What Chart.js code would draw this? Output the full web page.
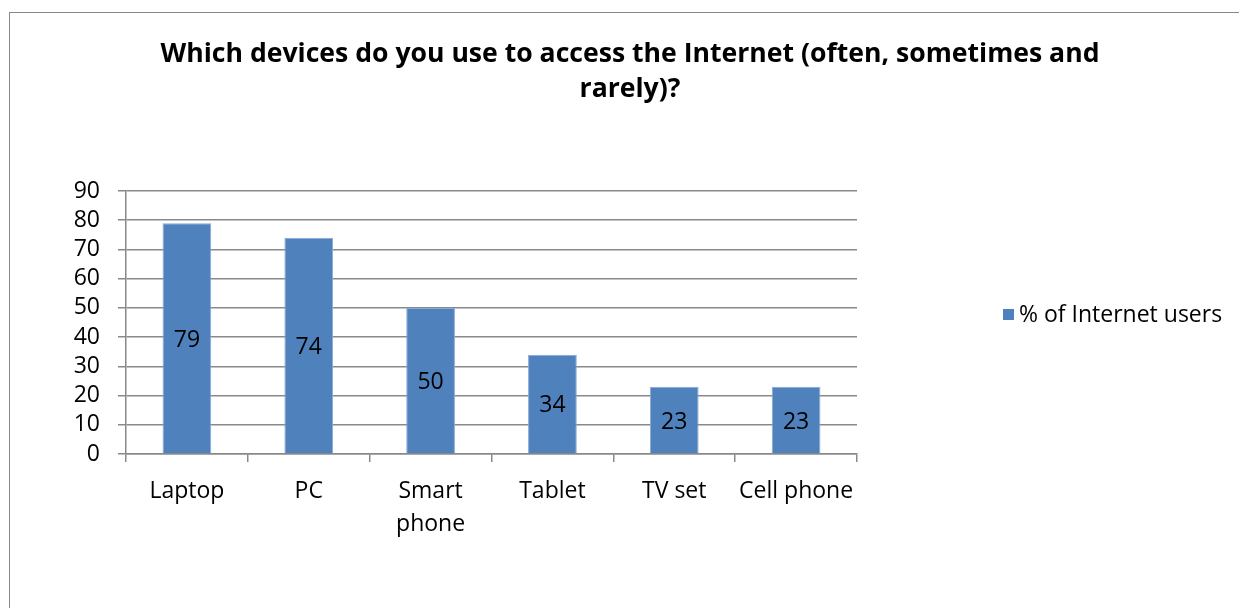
<!DOCTYPE html>
<html>
<head>
<meta charset="utf-8">
<script src="https://cdn.jsdelivr.net/npm/chart.js@4.4.1/dist/chart.umd.min.js"></script>
<style>
  html, body { margin: 0; padding: 0; background: #fff; overflow: hidden; }
  #frame {
    position: absolute; left: 9px; top: 12px;
    width: 1240px; height: 600px;
    border: 1px solid #898989;
  }
  #frame canvas { display: block; }
</style>
</head>
<body>
<div id="frame"><canvas id="devChart" width="1240" height="600"></canvas></div>
<script>
const devices = ['Laptop', 'PC', ['Smart', 'phone'], 'Tablet', 'TV set', 'Cell phone'];
const usersPct = [79, 74, 50, 34, 23, 23];
const yTicks = [0, 10, 20, 30, 40, 50, 60, 70, 80, 90];
const seriesName = '% of Internet users';
const titleLines = ['Which devices do you use to access the Internet (often, sometimes and', 'rarely)?'];

const FONT = '"Open Sans", sans-serif';
const BAR = '#4F81BD';
const GRID = '#898989';

// value written in the middle of each bar
const barValues = {
  id: 'barValues',
  afterDatasetsDraw(chart) {
    const ctx = chart.ctx;
    const meta = chart.getDatasetMeta(0);
    ctx.save();
    ctx.font = '23px ' + FONT;
    ctx.fillStyle = '#000';
    ctx.textAlign = 'center';
    ctx.textBaseline = 'middle';
    meta.data.forEach((bar, i) => {
      const { x, y, base } = bar.getProps(['x', 'y', 'base'], true);
      ctx.fillText(String(chart.data.datasets[0].data[i]), x, (y + base) / 2 + 2);
    });
    ctx.restore();
  }
};

// single-entry legend off to the right of the plot
const sideLegend = {
  id: 'sideLegend',
  afterDraw(chart) {
    const ctx = chart.ctx;
    const ds = chart.data.datasets[0];
    const x = 993, y = 302;
    ctx.save();
    ctx.fillStyle = ds.backgroundColor;
    ctx.fillRect(x, y - 6, 11, 11);
    ctx.font = '23px ' + FONT;
    ctx.fillStyle = '#000';
    ctx.textAlign = 'left';
    ctx.textBaseline = 'middle';
    ctx.fillText(ds.label, x + 16, y);
    ctx.restore();
  }
};

new Chart(document.getElementById('devChart'), {
  type: 'bar',
  data: {
    labels: devices,
    datasets: [{
      label: seriesName,
      data: usersPct,
      backgroundColor: BAR,
      borderColor: '#8aaad6',
      borderWidth: { top: 1, left: 1, right: 1, bottom: 0 },
      categoryPercentage: 1,
      barPercentage: 0.4
    }]
  },
  options: {
    responsive: false,
    animation: false,
    plugins: {
      legend: { display: false },
      tooltip: { enabled: false },
      title: {
        display: true,
        text: titleLines,
        color: '#000',
        font: { family: FONT, size: 26.6, weight: 'bold', lineHeight: 35 / 26.6 },
        padding: { top: 24, bottom: 84 }
      }
    },
    scales: {
      x: {
        afterFit: s => { s.height = 159; },
        grid: { drawOnChartArea: false, drawTicks: true, tickLength: 8, color: GRID, lineWidth: 1.5 },
        border: { color: GRID, width: 1.5 },
        ticks: {
          color: '#000',
          padding: 13,
          maxRotation: 0,
          autoSkip: false,
          font: { family: FONT, size: 23, lineHeight: 33 / 23 }
        }
      },
      y: {
        min: 0,
        max: 90,
        afterFit: s => { s.width = 116; },
        afterBuildTicks: s => { s.ticks = yTicks.map(v => ({ value: v })); },
        grid: { color: GRID, lineWidth: 1.5, tickLength: 8 },
        border: { color: GRID, width: 1.5 },
        ticks: {
          color: '#000',
          padding: 18,
          autoSkip: false,
          font: { family: FONT, size: 23 }
        }
      },
      // empty space on the right where the legend sits
      legendSpace: {
        type: 'linear',
        position: 'right',
        afterFit: s => { s.width = 393; },
        grid: { display: false },
        border: { display: false },
        ticks: { display: false }
      }
    }
  },
  plugins: [barValues, sideLegend]
});
</script>
</body>
</html>
